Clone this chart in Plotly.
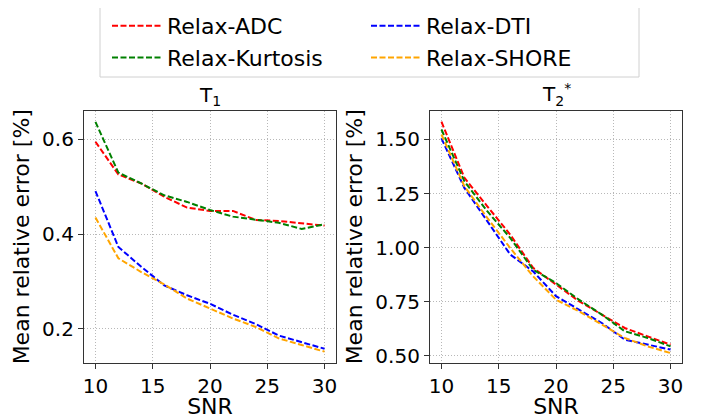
import plotly.graph_objects as go

snr = [10, 12, 14, 16, 18, 20, 22, 24, 26, 28, 30]

t1_adc = [0.595, 0.526, 0.507, 0.479, 0.456, 0.449, 0.449, 0.430, 0.428, 0.423, 0.418]
t1_kurtosis = [0.637, 0.530, 0.507, 0.482, 0.468, 0.451, 0.437, 0.430, 0.424, 0.411, 0.421]
t1_dti = [0.491, 0.373, 0.331, 0.292, 0.271, 0.253, 0.230, 0.210, 0.186, 0.172, 0.158]
t1_shore = [0.435, 0.349, 0.320, 0.294, 0.264, 0.243, 0.222, 0.204, 0.180, 0.166, 0.152]

t2_adc = [1.582, 1.323, 1.191, 1.060, 0.906, 0.829, 0.752, 0.690, 0.628, 0.589, 0.551]
t2_kurtosis = [1.546, 1.307, 1.168, 1.045, 0.898, 0.836, 0.759, 0.690, 0.613, 0.582, 0.543]
t2_dti = [1.505, 1.276, 1.122, 0.968, 0.890, 0.775, 0.713, 0.651, 0.574, 0.551, 0.528]
t2_shore = [1.523, 1.284, 1.137, 0.998, 0.867, 0.759, 0.705, 0.644, 0.582, 0.543, 0.512]

names = ["Relax-ADC", "Relax-Kurtosis", "Relax-DTI", "Relax-SHORE"]
colors = ["red", "green", "blue", "orange"]
legends = ["legend", "legend", "legend2", "legend2"]

t1_series = [t1_adc, t1_kurtosis, t1_dti, t1_shore]
t2_series = [t2_adc, t2_kurtosis, t2_dti, t2_shore]

# The page body has an 8px default margin; the figure is shrunk and all
# positions (given in window pixels) are shifted to compensate.
OFF = 8
W, H = 708 - OFF, 419 - OFF
FONT = "DejaVu Sans"

fig = go.Figure()
for i in range(4):
    fig.add_trace(go.Scatter(
        x=snr, y=t1_series[i], mode="lines", name=names[i],
        line=dict(color=colors[i], width=2, dash="6px,2.5px"),
        xaxis="x", yaxis="y", legend=legends[i], showlegend=True))
for i in range(4):
    fig.add_trace(go.Scatter(
        x=snr, y=t2_series[i], mode="lines", name=names[i],
        line=dict(color=colors[i], width=2, dash="6px,2.5px"),
        xaxis="x2", yaxis="y2", showlegend=False))

def px_x(p):
    return (p - OFF) / W

def px_y(p):
    return 1 - (p - OFF) / H

y_dom = [px_y(363), px_y(110.5)]

axis_common = dict(
    showline=True, linecolor="#333333", linewidth=1.2, mirror=True,
    ticks="outside", ticklen=5, tickwidth=1.2, tickcolor="#333333",
    showgrid=True, gridcolor="#b8b8b8", griddash="1px,2px", gridwidth=1,
    zeroline=False, automargin=False,
    tickfont=dict(family=FONT, size=20, color="black"),
)

fig.update_layout(
    width=W, height=H,
    margin=dict(l=0, r=0, t=0, b=0, autoexpand=False),
    paper_bgcolor="white", plot_bgcolor="white",
    font=dict(family=FONT, color="black"),
    xaxis=dict(domain=[px_x(84), px_x(336)], range=[9, 31],
               tickvals=[10, 15, 20, 25, 30], anchor="y",
               title=dict(text="SNR", font=dict(size=22), standoff=3), **axis_common),
    yaxis=dict(domain=y_dom, range=[0.128, 0.661],
               tickvals=[0.2, 0.4, 0.6], ticktext=["0.2", "0.4", "0.6"], anchor="x",
               title=dict(text="Mean relative error [%]", font=dict(size=22), standoff=6),
               **axis_common),
    xaxis2=dict(domain=[px_x(430), px_x(682)], range=[9, 31],
                tickvals=[10, 15, 20, 25, 30], anchor="y2",
                title=dict(text="SNR", font=dict(size=22), standoff=3), **axis_common),
    yaxis2=dict(domain=y_dom, range=[0.466, 1.634],
                tickvals=[0.5, 0.75, 1.0, 1.25, 1.5],
                ticktext=["0.50", "0.75", "1.00", "1.25", "1.50"], anchor="x2",
                title=dict(text="Mean relative error [%]", font=dict(size=22), standoff=6),
                **axis_common),
    legend=dict(x=px_x(107), y=px_y(5), xanchor="left", yanchor="top",
                bgcolor="rgba(0,0,0,0)", borderwidth=0,
                font=dict(family=FONT, size=22), itemwidth=50),
    legend2=dict(x=px_x(366), y=px_y(5), xanchor="left", yanchor="top",
                 bgcolor="rgba(0,0,0,0)", borderwidth=0,
                 font=dict(family=FONT, size=22), itemwidth=50),
    shapes=[dict(type="rect", xref="paper", yref="paper",
                 x0=px_x(100), x1=px_x(639), y0=px_y(77), y1=px_y(5),
                 line=dict(color="#d0d0d0", width=1), fillcolor="rgba(0,0,0,0)")],
    annotations=[
        dict(text="T<sub>1</sub>", x=(px_x(84) + px_x(336)) / 2, y=px_y(111),
             xref="paper", yref="paper", xanchor="center", yanchor="bottom",
             showarrow=False, font=dict(family=FONT, size=20)),
        dict(text="T<sub>2</sub><sup>*</sup>", x=(px_x(430) + px_x(682)) / 2, y=px_y(111),
             xref="paper", yref="paper", xanchor="center", yanchor="bottom",
             showarrow=False, font=dict(family=FONT, size=20)),
    ],
)

fig.write_html("out.html")
